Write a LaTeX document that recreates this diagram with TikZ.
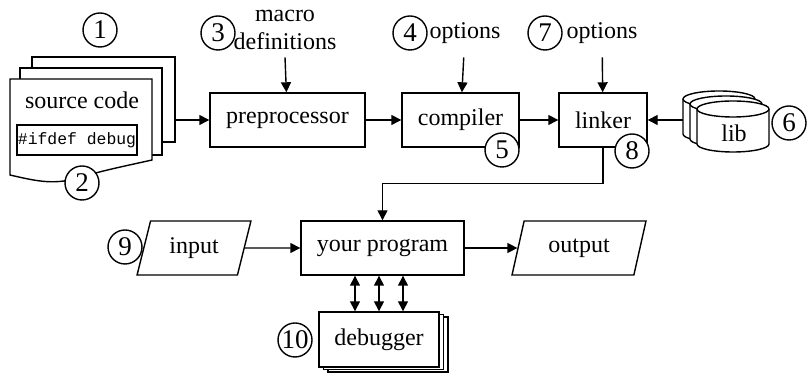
\documentclass[tikz,border=0pt]{standalone}
\usepackage{fontspec}
\setmainfont{Liberation Serif}
\setmonofont{Liberation Mono}
\usepackage{tikz}
\usetikzlibrary{arrows.meta,shapes,positioning,shapes.geometric}
\tikzset{
blk/.style = {draw, rectangle, fill=white, line width=0.7pt, inner sep=0pt, align=center},% processing step
sheet/.style = {draw, rectangle, fill=white, line width=0.7pt, inner sep=0pt},% stacked page
io_p/.style = {draw, trapezium, trapezium left angle=70, trapezium right angle=110, trapezium stretches=true, line width=0.7pt, inner sep=0pt, minimum height=27pt},% data in/out
num_c/.style = {draw, circle, fill=white, line width=0.7pt, inner sep=0pt, minimum size=17pt, font=\fontsize{13.5}{14}\selectfont},% step number
lbl/.style = {inner xsep=1pt, inner ysep=6.5pt, text height=8.5pt, text depth=2.5pt},
arr/.style = {line width=0.7pt, -{Triangle[length=5pt,width=5pt]}},
dbl/.style = {line width=0.7pt, {Triangle[length=5pt,width=5pt]}-{Triangle[length=5pt,width=5pt]}}
}
\newcommand{\libdisk}[2]{%
  \draw[line width=0.7pt, fill=white] (#1-36,#2+17.5) -- (#1-36,#2-17.5)
    arc[start angle=180, end angle=360, x radius=18pt, y radius=4pt]
    -- (#1+36,#2+17.5)
    arc[start angle=0, end angle=180, x radius=18pt, y radius=4pt] -- cycle;
  \draw[line width=0.7pt] (#1-36,#2+17.5)
    arc[start angle=180, end angle=360, x radius=18pt, y radius=4pt];
}
\begin{document}
\begin{tikzpicture}[x=0.5pt, y=0.5pt, font=\fontsize{12}{14}\selectfont]
\useasboundingbox (0,0) rectangle (807,373);
% source code stack
\node[sheet, minimum width=71.5pt, minimum height=42.5pt] (src_b) at (103.5,273.5) {};
\node[sheet, minimum width=71pt, minimum height=43.5pt] (src_m) at (91,261.5) {};
\draw[line width=0.7pt, fill=white] (10,294) -- (10,198)
  .. controls (40,191) and (55,188) .. (82,196)
  .. controls (100,202) and (130,208) .. (152,213) -- (152,294) -- cycle;
\node (src) at (82,273) {source code};
\node[blk, minimum width=60pt, minimum height=15pt, font=\ttfamily\fontsize{8.2}{9}\selectfont] (ifdef) at (77,233) {\#ifdef debug};
% tool chain
\node[blk, minimum width=77.5pt, minimum height=27pt] (preproc) at (287.5,253) {preprocessor};
\node[blk, minimum width=58.5pt, minimum height=27pt] (compiler) at (460.5,253) {compiler};
\node[blk, minimum width=44pt, minimum height=27pt] (linker) at (603,253) {linker};
\node[align=center, inner sep=0pt] (macro) at (285,343) {macro\\definitions};
\node[lbl] (opt4) at (465,340) {options};
\node[lbl] (opt7) at (602,340) {options};
% libraries
\libdisk{719}{256.5}
\libdisk{726}{251.5}
\libdisk{733}{246.5}
\node (lib) at (734,240) {lib};
\coordinate (lib_in) at (683,253);
% program and its data
\node[blk, minimum width=81.5pt, minimum height=27pt] (prog) at (382.5,125) {your program};
\node[io_p, minimum width=57pt] (input) at (194,125) {input};
\node[io_p, minimum width=67pt] (output) at (579,125) {output};
\node[sheet, minimum width=60pt, minimum height=27.5pt] (dbg_b) at (388,28.5) {};
\node[sheet, minimum width=60pt, minimum height=27.5pt] (dbg_m) at (383.5,31) {};
\node[blk, minimum width=60pt, minimum height=27.5pt] (dbg) at (379,33.5) {debugger};
% connectors
\draw[arr] (src_b.east |- preproc) -- (preproc);
\draw[arr] (preproc) -- (compiler);
\draw[arr] (compiler) -- (linker);
\draw[arr] (lib_in) -- (linker);
\draw[arr] (macro.south |- opt4.south) -- (preproc);
\draw[arr] (opt4) -- (compiler);
\draw[arr] (opt7) -- (linker);
\draw[arr] (linker.south) -- ++(0,-36) -| (prog.north);
\draw[arr] (input) -- (prog);
\draw[arr] (prog) -- (output);
\foreach \dx in {-12pt,0pt,12pt}
  \draw[dbl] ([xshift=\dx]dbg.north |- prog.south) -- ([xshift=\dx]dbg.north);
% step numbers
\node[num_c] (n1) at (100,343) {1};
\node[num_c] (n2) at (82,190) {2};
\node[num_c] (n3) at (218,340) {3};
\node[num_c] (n4) at (410,340) {4};
\node[num_c] (n5) at (502,223) {5};
\node[num_c] (n6) at (789,250) {6};
\node[num_c] (n7) at (545,340) {7};
\node[num_c] (n8) at (632,222) {8};
\node[num_c] (n9) at (125,126) {9};
\node[num_c] (n10) at (295,33) {10};
\end{tikzpicture}
\end{document}
